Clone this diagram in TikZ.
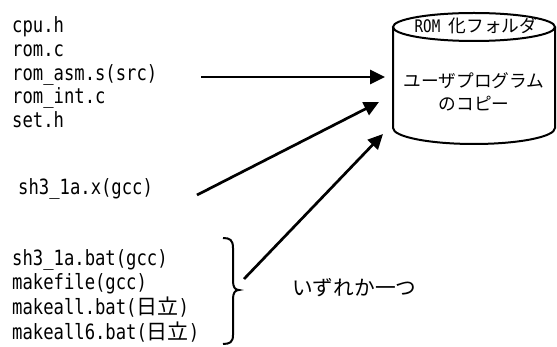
\documentclass[tikz,border=0pt]{standalone}
\usepackage{fontspec}
\usetikzlibrary{arrows.meta}
\newfontfamily\monofont[FakeStretch=0.82]{DejaVu Sans Mono}
\newfontfamily\jpfont{Noto Sans CJK JP}

\begin{document}
\begin{tikzpicture}[x=1pt,y=-1pt,
  file/.style={anchor=base west, inner sep=0pt, font=\monofont\fontsize{21}{24}\selectfont},
  jplabel/.style={anchor=base, inner sep=0pt, font=\jpfont\fontsize{17.7}{20}\selectfont},
  note/.style={anchor=base west, inner sep=0pt, font=\jpfont\fontsize{20.7}{24}\selectfont},
  feed/.style={line width=2.7pt, -{Triangle[length=15pt,width=14pt]}},
  outline/.style={line width=2pt}]
\useasboundingbox (0,0) rectangle (557,347);

% source files
\node[file] (cpu)    at (12,33)   {cpu.h};
\node[file] (romc)   at (12,57)   {rom.c};
\node[file] (romasm) at (12,80.5) {rom\_asm.s(src)};
\node[file] (romint) at (12,104)  {rom\_int.c};
\node[file] (seth)   at (12,128)  {set.h};

% executable
\node[file] (exe) at (18,195) {sh3\_1a.x(gcc)};

% build scripts
\node[file] (bat)   at (12,266) {sh3\_1a.bat(gcc)};
\node[file] (mkf)   at (12,290) {makefile(gcc)};
\node[file] (mka)   at (12,315) {makeall.bat({\jpfont 日立})};
\node[file] (mka6)  at (12,340) {makeall6.bat({\jpfont 日立})};

% brace grouping the build scripts
\coordinate (braceTop) at (223,238);
\coordinate (braceTip) at (239,290);
\coordinate (braceBot) at (223,344);
\draw[outline] (braceTop) .. controls (230,238) and (233,240) .. (233,248)
  -- (233,281) .. controls (233,287) and (235,290) .. (braceTip)
  .. controls (235,290) and (233,293) .. (233,299)
  -- (233,335) .. controls (233,342) and (230,344) .. (braceBot);

\node[note] (oneof) at (292,296) {いずれか一つ};

% ROM folder cylinder
\draw[outline] (474,27) ellipse [x radius=81, y radius=14];
\draw[outline] (393,27) -- (393,128)
  .. controls (393,136.8) and (429.3,144) .. (474,144)
  .. controls (518.7,144) and (555,136.8) .. (555,128) -- (555,27);

\node[anchor=base, inner sep=0pt] (romdir) at (476,33)
  {{\monofont\fontsize{17.3}{20}\selectfont ROM }{\jpfont\fontsize{17.7}{20}\selectfont 化フォルダ}};
\node[jplabel] (copy1) at (474,88)  {ユーザプログラム};
\node[jplabel] (copy2) at (474,111) {のコピー};

% connectors
\coordinate (srcStart) at (201,77);
\coordinate (srcEnd)   at (385,77);
\coordinate (exeStart) at (197,195);
\coordinate (exeEnd)   at (379,102);
\coordinate (batStart) at (244,279);
\coordinate (batEnd)   at (383,134);
\draw[feed] (srcStart) -- (srcEnd);
\draw[feed] (exeStart) -- (exeEnd);
\draw[feed] (batStart) -- (batEnd);
\end{tikzpicture}
\end{document}
